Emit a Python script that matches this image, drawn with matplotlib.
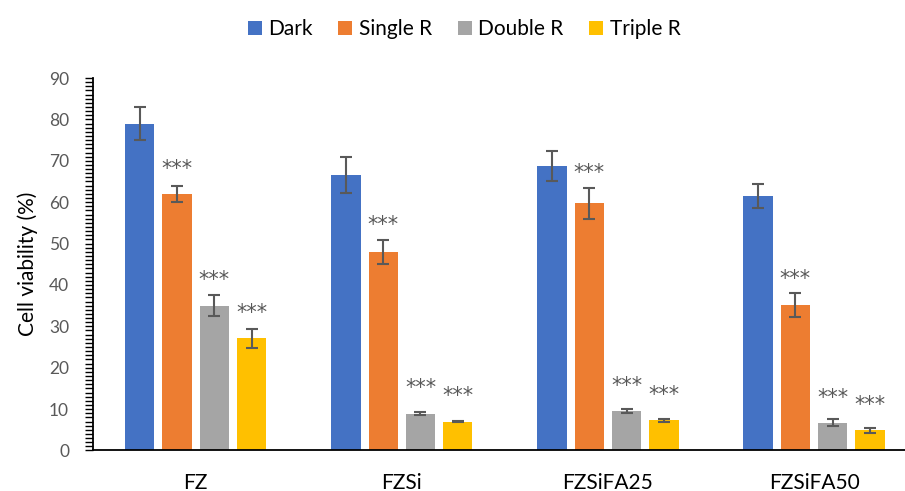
import numpy as np
import matplotlib
matplotlib.use("Agg")
import matplotlib.pyplot as plt
from matplotlib.ticker import MultipleLocator

# Cell viability (%) per sample group and irradiation condition
groups = ["FZ", "FZSi", "FZSiFA25", "FZSiFA50"]
series_names = ["Dark", "Single R", "Double R", "Triple R"]

dark = [79.0, 66.5, 68.7, 61.5]
single_r = [62.0, 48.0, 59.7, 35.1]
double_r = [35.0, 8.9, 9.5, 6.7]
triple_r = [27.1, 7.0, 7.3, 4.9]

dark_err = [4.0, 4.3, 3.7, 2.8]
single_err = [2.0, 2.9, 3.8, 2.9]
double_err = [2.5, 0.3, 0.5, 0.9]
triple_err = [2.3, 0.2, 0.4, 0.6]

# significance marks versus Dark (None = no mark)
significance = [
    [None, None, None, None],
    ["***", "***", "***", "***"],
    ["***", "***", "***", "***"],
    ["***", "***", "***", "***"],
]

colors = ["#4472C4", "#ED7D31", "#A5A5A5", "#FFC000"]
values = [dark, single_r, double_r, triple_r]
errors = [dark_err, single_err, double_err, triple_err]

plt.rcParams["font.family"] = ["Lato", "DejaVu Sans"]

fig = plt.figure(figsize=(9.05, 4.91), dpi=100)
ax = fig.add_axes([0.1024, 0.0825, 0.911, 0.7586])

x = np.arange(len(groups))
width = 0.142
pitch = 0.181
offsets = (np.arange(len(series_names)) - 1.5) * pitch

for i, (name, vals, errs, col) in enumerate(zip(series_names, values, errors, colors)):
    xi = x + offsets[i]
    ax.bar(xi, vals, width, color=col, label=name, zorder=2)
    ax.errorbar(xi, vals, yerr=errs, fmt="none", ecolor="#595959",
                elinewidth=1.5, capsize=4.3, capthick=1.5, zorder=3)
    for j, mark in enumerate(significance[i]):
        if mark:
            # place the mark just above the error bar, with a minimum gap above the bar
            y = max(vals[j] + errs[j] + 3.5, vals[j] + 6.1)
            ax.text(xi[j], y, mark, ha="center", va="center",
                    fontsize=15, color="#595959", family="DejaVu Sans", zorder=4)

ax.set_xlim(-0.5, 3.5)
ax.set_ylim(0, 90)
ax.set_xticks(x)
ax.set_xticklabels(groups, fontsize=15, color="black")
ax.yaxis.set_major_locator(MultipleLocator(10))
ax.yaxis.set_minor_locator(MultipleLocator(1))
ax.tick_params(axis="y", which="both", direction="out", length=6, width=1,
               color="black", labelsize=12.5, labelcolor="#595959", pad=11)
ax.tick_params(axis="x", length=0, pad=16)

for side in ["top", "right"]:
    ax.spines[side].set_visible(False)
ax.spines["left"].set_linewidth(1.3)
ax.spines["bottom"].set_linewidth(1.3)
ax.spines["left"].set_color("black")
ax.spines["bottom"].set_color("black")

ax.set_ylabel("Cell viability (%)", fontsize=15, color="black", labelpad=8)

ax.legend(loc="upper center", bbox_to_anchor=(464 / 905, 0.99), bbox_transform=fig.transFigure,
          ncol=4, frameon=False, fontsize=15, handlelength=0.67, handleheight=0.67,
          handletextpad=0.3, columnspacing=1.25, borderaxespad=0.3)

fig.savefig("out.png", dpi=100)
